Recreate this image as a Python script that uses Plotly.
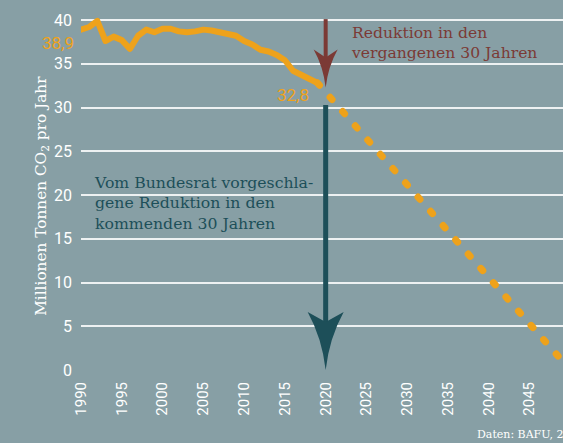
import plotly.graph_objects as go

# ---- data ----
years = list(range(1990, 2020))
emissions = [38.9, 39.2, 39.9, 37.6, 38.1, 37.7, 36.7, 38.2, 38.9, 38.6,
             39.0, 39.0, 38.7, 38.6, 38.7, 38.9, 38.8, 38.6, 38.5, 38.2,
             37.6, 37.2, 36.6, 36.4, 36.0, 35.4, 34.2, 33.7, 33.3, 32.8]
proj_years = [2019, 2050]
proj_values = [32.8, 0.0]
y_ticks = [0, 5, 10, 15, 20, 25, 30, 35, 40]
x_ticks = list(range(1990, 2051, 5))

arrow_year = 2020
past_arrow_top, past_arrow_tip = 40.1, 32.3
future_arrow_top, future_arrow_tip = 30.3, 0.0

BG = "#879fa5"
ORANGE = "#eea21b"
BROWN = "#7b3a35"
TEAL = "#1d4f59"
SERIF = "Roboto Slab, DejaVu Serif, serif"
SANS = "Roboto, sans-serif"

def fmt(v):
    return f"{v:.1f}".replace(".", ",")

fig = go.Figure()
fig.add_trace(go.Scatter(x=proj_years, y=proj_values, mode="lines",
                         line=dict(color=ORANGE, width=7, dash="3px,16px"),
                         hoverinfo="skip"))
fig.add_trace(go.Scatter(x=years, y=emissions, mode="lines",
                         line=dict(color=ORANGE, width=6),
                         hoverinfo="skip"))

# arrows
def arrow(color, top, tip, shaft_w, half_w, head_len, notch):
    fig.add_shape(type="line", xref="x", yref="y", x0=arrow_year, x1=arrow_year,
                  y0=top, y1=tip + (notch - 2) / 8.75,
                  line=dict(color=color, width=shaft_w), layer="above")
    path = (f"M 0,0 Q {half_w*0.2},{head_len*0.55} {half_w},{head_len} "
            f"L 0,{notch} L {-half_w},{head_len} "
            f"Q {-half_w*0.2},{head_len*0.55} 0,0 Z")
    fig.add_shape(type="path", xref="x", yref="y", xsizemode="pixel", ysizemode="pixel",
                  xanchor=arrow_year, yanchor=tip, path=path,
                  fillcolor=color, line=dict(width=0), layer="above")

arrow(BROWN, past_arrow_top, past_arrow_tip, 4, 12, 38, 30)
arrow(TEAL, future_arrow_top, future_arrow_tip, 5, 18, 58, 48)

# labels
fig.add_annotation(x=years[0], y=emissions[0], text=fmt(emissions[0]), showarrow=False,
                   xanchor="right", yanchor="middle", xshift=-5, yshift=-13,
                   font=dict(family=SANS, size=17, color=ORANGE))
fig.add_annotation(x=years[-1], y=emissions[-1], text=fmt(emissions[-1]), showarrow=False,
                   xanchor="right", yanchor="middle", xshift=-7, yshift=-12,
                   font=dict(family=SANS, size=17, color=ORANGE))
fig.add_annotation(x=2022.9, y=39.8, text="Reduktion in den<br>vergangenen 30 Jahren",
                   showarrow=False, xanchor="left", yanchor="top", align="left",
                   font=dict(family=SERIF, size=15.6, color=BROWN))
fig.add_annotation(x=1991.4, y=22.8,
                   text="Vom Bundesrat vorgeschla-<br>gene Reduktion in den<br>kommenden 30 Jahren",
                   showarrow=False, xanchor="left", yanchor="top", align="left",
                   font=dict(family=SERIF, size=15.7, color=TEAL))
fig.add_annotation(xref="paper", yref="y", x=-0.081, y=19.9, textangle=-90,
                   text="Millionen Tonnen CO<sub>2</sub> pro Jahr", showarrow=False,
                   xanchor="center", yanchor="middle",
                   font=dict(family=SERIF, size=15.3, color="white"))
fig.add_annotation(xref="paper", yref="paper", x=0.8175, y=-0.176, text="Daten: BAFU, 2021",
                   showarrow=False, xanchor="left", yanchor="middle",
                   font=dict(family=SERIF, size=11, color="white"))

fig.update_layout(
    width=563, height=443,
    margin=dict(l=81, r=0, t=2, b=73),
    paper_bgcolor=BG, plot_bgcolor=BG,
    showlegend=False,
    xaxis=dict(range=[1990, 2049.1], tickvals=x_ticks, tickangle=-90,
               showgrid=False, zeroline=False, showline=False,
               ticks="", ticklabelstandoff=8,
               tickfont=dict(family=SANS, size=15, color="white")),
    yaxis=dict(range=[0, 368 / 8.75], tickvals=y_ticks,
               showgrid=True, gridcolor="rgba(255,255,255,0.85)", gridwidth=1.5,
               zeroline=False, showline=False, ticks="", ticklabelstandoff=8,
               tickfont=dict(family=SANS, size=16, color="white")),
)

post = """
document.body.style.margin='0';
document.body.style.overflow='hidden';
document.querySelectorAll('.scatterlayer .js-line').forEach(function(p){
  p.style.strokeLinecap='round'; p.style.strokeLinejoin='round';
});
"""
fig.write_html("out.html", post_script=post, config={"displayModeBar": False})
